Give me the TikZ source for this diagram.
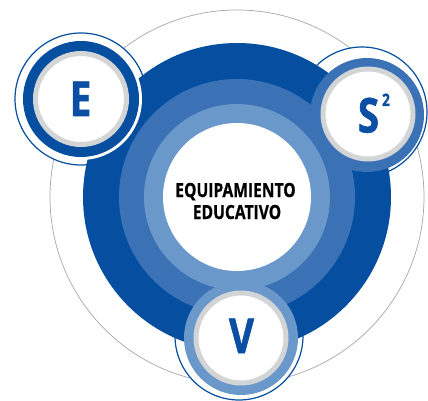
\documentclass[tikz,border=0pt]{standalone}
\usepackage{fontspec}
\newfontfamily\cb[FakeStretch=0.8,FakeBold=1.2]{Open Sans}
\newfontfamily\ct[FakeStretch=0.8,FakeBold=0.6]{Open Sans}
\definecolor{dblue}{RGB}{5,78,160}
\definecolor{mblue}{RGB}{59,114,182}
\definecolor{lblue}{RGB}{106,152,203}
\definecolor{ringgray}{RGB}{211,212,214}
\definecolor{thingray}{RGB}{166,166,166}
\definecolor{letterblue}{RGB}{10,79,163}
\tikzset{
  outlinecirc/.style={fill=white,draw=dblue,line width=1.2pt},
  grayring/.style={fill=white,draw=ringgray,line width=5pt},
  bigletter/.style={font=\cb\bfseries\fontsize{48}{48}\selectfont,text=letterblue,inner sep=0pt,anchor=base},
  titletext/.style={font=\ct\bfseries\fontsize{19.5}{20}\selectfont,text=black,inner sep=0pt,anchor=base}
}
\begin{document}
\begin{tikzpicture}[x=1pt,y=-1pt]
\useasboundingbox (0,0) rectangle (428,401);
% large thin gray circle
\draw[thingray,line width=0.7pt] (237,197) circle[radius=187pt];
% outline circles
\filldraw[outlinecirc] (81,99) circle[radius=66pt];
\filldraw[outlinecirc] (362,112) circle[radius=65pt];
\filldraw[outlinecirc] (239,336) circle[radius=64pt];
% main disc
\fill[dblue] (237,197) circle[radius=154pt];
\fill[mblue] (237,197) circle[radius=118pt];
\fill[lblue] (237,197) circle[radius=93pt];
\fill[white] (237,197) circle[radius=74pt];
% E circle
\fill[white] (81,99) circle[radius=61pt];
\fill[dblue] (81,99) circle[radius=58pt];
\filldraw[grayring] (81,99) circle[radius=45.5pt];
% S circle
\fill[mblue] (367,115) circle[radius=57pt];
\filldraw[grayring] (368,114) circle[radius=45pt];
% V circle
\fill[lblue] (241,338) circle[radius=57pt];
\filldraw[grayring] (241,338) circle[radius=45pt];
% letters
\node[bigletter] (E) at (80.5,116) {E};
\node[bigletter] (S) at (368.5,132.5) {S};
\node[font=\cb\bfseries\fontsize{17}{17}\selectfont,text=letterblue,inner sep=0pt,anchor=base] (two) at (386,106) {2};
\node[bigletter] (V) at (241.5,353) {V};
% title
\node[titletext] (t1) at (235.5,197) {EQUIPAMIENTO};
\node[titletext] (t2) at (237,219) {EDUCATIVO};
\end{tikzpicture}
\end{document}
